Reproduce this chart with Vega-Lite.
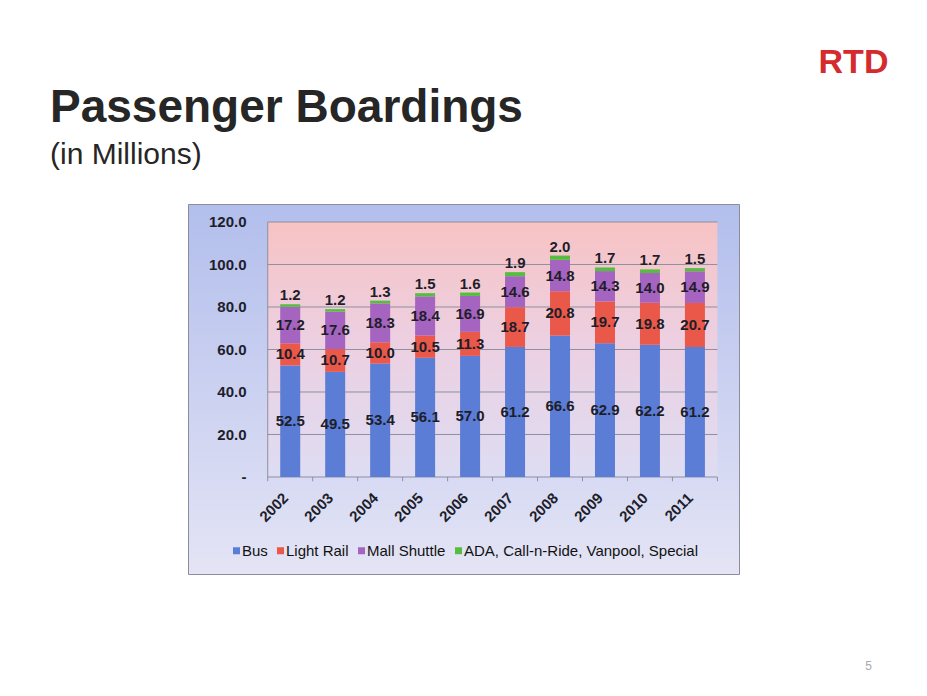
{
  "$schema": "https://vega.github.io/schema/vega-lite/v6.json",
  "width": 551,
  "height": 370,
  "autosize": "none",
  "padding": {"left": 188, "top": 204, "right": 188, "bottom": 122},
  "background": "white",
  "title": {
    "text": "Passenger Boardings",
    "subtitle": "(in Millions)",
    "anchor": "start",
    "frame": "group",
    "dx": -138,
    "offset": -126,
    "font": "Liberation Sans",
    "fontSize": 46,
    "fontWeight": "bold",
    "color": "#262626",
    "subtitleFont": "Liberation Sans",
    "subtitleFontSize": 30,
    "subtitleColor": "#262626",
    "subtitlePadding": 8
  },
  "config": {
    "font": "Liberation Sans",
    "view": {
      "fill": {
        "gradient": "linear", "x1": 0, "y1": 0, "x2": 0, "y2": 1,
        "stops": [
          {"offset": 0, "color": "#B2BEEC"},
          {"offset": 1, "color": "#E4E4F5"}
        ]
      },
      "stroke": "#8c8c9c",
      "strokeWidth": 1
    }
  },
  "datasets": {
    "boardings": [
      {"year": 2002, "mode": "Bus", "k": 1, "value": 52.5},
      {"year": 2002, "mode": "Light Rail", "k": 2, "value": 10.4},
      {"year": 2002, "mode": "Mall Shuttle", "k": 3, "value": 17.2},
      {"year": 2002, "mode": "ADA, Call-n-Ride, Vanpool, Special", "k": 4, "value": 1.2},
      {"year": 2003, "mode": "Bus", "k": 1, "value": 49.5},
      {"year": 2003, "mode": "Light Rail", "k": 2, "value": 10.7},
      {"year": 2003, "mode": "Mall Shuttle", "k": 3, "value": 17.6},
      {"year": 2003, "mode": "ADA, Call-n-Ride, Vanpool, Special", "k": 4, "value": 1.2},
      {"year": 2004, "mode": "Bus", "k": 1, "value": 53.4},
      {"year": 2004, "mode": "Light Rail", "k": 2, "value": 10.0},
      {"year": 2004, "mode": "Mall Shuttle", "k": 3, "value": 18.3},
      {"year": 2004, "mode": "ADA, Call-n-Ride, Vanpool, Special", "k": 4, "value": 1.3},
      {"year": 2005, "mode": "Bus", "k": 1, "value": 56.1},
      {"year": 2005, "mode": "Light Rail", "k": 2, "value": 10.5},
      {"year": 2005, "mode": "Mall Shuttle", "k": 3, "value": 18.4},
      {"year": 2005, "mode": "ADA, Call-n-Ride, Vanpool, Special", "k": 4, "value": 1.5},
      {"year": 2006, "mode": "Bus", "k": 1, "value": 57.0},
      {"year": 2006, "mode": "Light Rail", "k": 2, "value": 11.3},
      {"year": 2006, "mode": "Mall Shuttle", "k": 3, "value": 16.9},
      {"year": 2006, "mode": "ADA, Call-n-Ride, Vanpool, Special", "k": 4, "value": 1.6},
      {"year": 2007, "mode": "Bus", "k": 1, "value": 61.2},
      {"year": 2007, "mode": "Light Rail", "k": 2, "value": 18.7},
      {"year": 2007, "mode": "Mall Shuttle", "k": 3, "value": 14.6},
      {"year": 2007, "mode": "ADA, Call-n-Ride, Vanpool, Special", "k": 4, "value": 1.9},
      {"year": 2008, "mode": "Bus", "k": 1, "value": 66.6},
      {"year": 2008, "mode": "Light Rail", "k": 2, "value": 20.8},
      {"year": 2008, "mode": "Mall Shuttle", "k": 3, "value": 14.8},
      {"year": 2008, "mode": "ADA, Call-n-Ride, Vanpool, Special", "k": 4, "value": 2.0},
      {"year": 2009, "mode": "Bus", "k": 1, "value": 62.9},
      {"year": 2009, "mode": "Light Rail", "k": 2, "value": 19.7},
      {"year": 2009, "mode": "Mall Shuttle", "k": 3, "value": 14.3},
      {"year": 2009, "mode": "ADA, Call-n-Ride, Vanpool, Special", "k": 4, "value": 1.7},
      {"year": 2010, "mode": "Bus", "k": 1, "value": 62.2},
      {"year": 2010, "mode": "Light Rail", "k": 2, "value": 19.8},
      {"year": 2010, "mode": "Mall Shuttle", "k": 3, "value": 14.0},
      {"year": 2010, "mode": "ADA, Call-n-Ride, Vanpool, Special", "k": 4, "value": 1.7},
      {"year": 2011, "mode": "Bus", "k": 1, "value": 61.2},
      {"year": 2011, "mode": "Light Rail", "k": 2, "value": 20.7},
      {"year": 2011, "mode": "Mall Shuttle", "k": 3, "value": 14.9},
      {"year": 2011, "mode": "ADA, Call-n-Ride, Vanpool, Special", "k": 4, "value": 1.5}
    ],
    "gridlines": [
      {"tick": 20}, {"tick": 40}, {"tick": 60}, {"tick": 80}, {"tick": 100}, {"tick": 120}
    ],
    "bounds": [
      {"b": 2001.5}, {"b": 2002.5}, {"b": 2003.5}, {"b": 2004.5}, {"b": 2005.5}, {"b": 2006.5},
      {"b": 2007.5}, {"b": 2008.5}, {"b": 2009.5}, {"b": 2010.5}, {"b": 2011.5}
    ]
  },
  "layer": [
    {
      "data": {"values": [{}]},
      "mark": {
        "type": "rect",
        "fill": {
          "gradient": "linear", "x1": 0, "y1": 0, "x2": 0, "y2": 1,
          "stops": [
            {"offset": 0, "color": "#F7C3C4"},
            {"offset": 0.45, "color": "#EDCFE0"},
            {"offset": 1, "color": "#DEDDF3"}
          ]
        }
      },
      "encoding": {
        "x": {"datum": 2001.5, "type": "quantitative"},
        "x2": {"datum": 2011.5},
        "y": {"datum": 0, "type": "quantitative"},
        "y2": {"datum": 120}
      }
    },
    {
      "data": {"name": "gridlines"},
      "mark": {"type": "rule", "color": "#8f8fa0", "strokeWidth": 1},
      "encoding": {
        "x": {"datum": 2001.5, "type": "quantitative"},
        "x2": {"datum": 2011.5},
        "y": {"field": "tick", "type": "quantitative"}
      }
    },
    {
      "data": {"values": [{}]},
      "mark": {"type": "rule", "color": "#8f8fa0", "strokeWidth": 1},
      "encoding": {
        "x": {"datum": 2001.5, "type": "quantitative"},
        "y": {"datum": 0, "type": "quantitative"},
        "y2": {"datum": 120}
      }
    },
    {
      "data": {"values": [{}]},
      "mark": {"type": "rule", "color": "#8f8fa0", "strokeWidth": 1},
      "encoding": {
        "x": {"datum": 2001.5, "type": "quantitative"},
        "x2": {"datum": 2011.5},
        "y": {"datum": 0, "type": "quantitative"}
      }
    },
    {
      "data": {"name": "bounds"},
      "mark": {"type": "rule", "color": "#8f8fa0", "strokeWidth": 1},
      "encoding": {
        "x": {"field": "b", "type": "quantitative"},
        "y": {"datum": 0, "type": "quantitative"},
        "y2": {"datum": -2}
      }
    },
    {
      "data": {"name": "boardings"},
      "mark": {"type": "bar", "size": 20},
      "encoding": {
        "x": {
          "field": "year", "type": "quantitative",
          "scale": {"domain": [1999.838, 2011.869], "nice": false, "zero": false},
          "axis": {
            "values": [2002, 2003, 2004, 2005, 2006, 2007, 2008, 2009, 2010, 2011],
            "format": "d", "labelAngle": -45, "labelAlign": "right", "labelBaseline": "middle",
            "labelFontSize": 15, "labelFontWeight": "bold", "labelColor": "#1e1e2a",
            "ticks": false, "domain": false, "grid": false, "offset": -97, "labelPadding": 18,
            "labelOffset": -5,
            "title": "5", "titleX": 680, "titleY": 188, "titleAlign": "center", "titleBaseline": "middle",
            "titleFontSize": 12, "titleFontWeight": "normal", "titleColor": "#a8a8b0",
            "labelFlush": false, "labelOverlap": false
          }
        },
        "y": {
          "field": "value", "type": "quantitative", "stack": "zero",
          "scale": {"domain": [-45.65, 128.47], "nice": false, "zero": false},
          "axis": {
            "values": [0, 20, 40, 60, 80, 100, 120],
            "labelExpr": "datum.value == 0 ? '-' : format(datum.value, '.1f')",
            "labelFontSize": 15, "labelFontWeight": "bold", "labelColor": "#1e1e2a",
            "ticks": false, "domain": false, "grid": false, "offset": -76, "labelPadding": 18,
            "title": "RTD", "titleX": 589, "titleY": -142, "titleAngle": 0, "titleAlign": "center",
            "titleBaseline": "middle", "titleFont": "Liberation Sans", "titleFontSize": 34,
            "titleFontWeight": "bold", "titleColor": "#D52B2E",
            "labelFlush": false, "labelOverlap": false
          }
        },
        "color": {
          "field": "mode", "type": "nominal",
          "scale": {
            "domain": ["Bus", "Light Rail", "Mall Shuttle", "ADA, Call-n-Ride, Vanpool, Special"],
            "range": ["#5B7DD6", "#EA5849", "#A564BF", "#56BE3F"]
          },
          "legend": {
            "orient": "none", "legendX": 41, "legendY": 339, "direction": "horizontal", "columns": 4,
            "title": null, "symbolType": "square", "symbolSize": 49, "symbolStrokeWidth": 0,
            "labelFontSize": 15, "labelFont": "Liberation Sans", "labelColor": "#111111",
            "columnPadding": 5, "labelOffset": -2, "labelLimit": 300
          }
        },
        "order": {"field": "k", "type": "quantitative"}
      }
    },
    {
      "data": {"name": "boardings"},
      "mark": {"type": "text", "fontSize": 15, "fontWeight": "bold", "color": "#1e1e2a"},
      "encoding": {
        "x": {"field": "year", "type": "quantitative"},
        "y": {"field": "value", "type": "quantitative", "stack": "zero", "bandPosition": 0.5},
        "detail": {"field": "mode"},
        "order": {"field": "k", "type": "quantitative"},
        "text": {
          "condition": {"test": "datum.k < 4", "field": "value", "type": "quantitative", "format": ".1f"},
          "value": ""
        }
      }
    },
    {
      "data": {"name": "boardings"},
      "mark": {"type": "text", "fontSize": 15, "fontWeight": "bold", "color": "#1e1e2a", "baseline": "bottom", "dy": -1},
      "encoding": {
        "x": {"field": "year", "type": "quantitative"},
        "y": {"field": "value", "type": "quantitative", "stack": "zero"},
        "detail": {"field": "mode"},
        "order": {"field": "k", "type": "quantitative"},
        "text": {
          "condition": {"test": "datum.k == 4", "field": "value", "type": "quantitative", "format": ".1f"},
          "value": ""
        }
      }
    }
  ]
}
